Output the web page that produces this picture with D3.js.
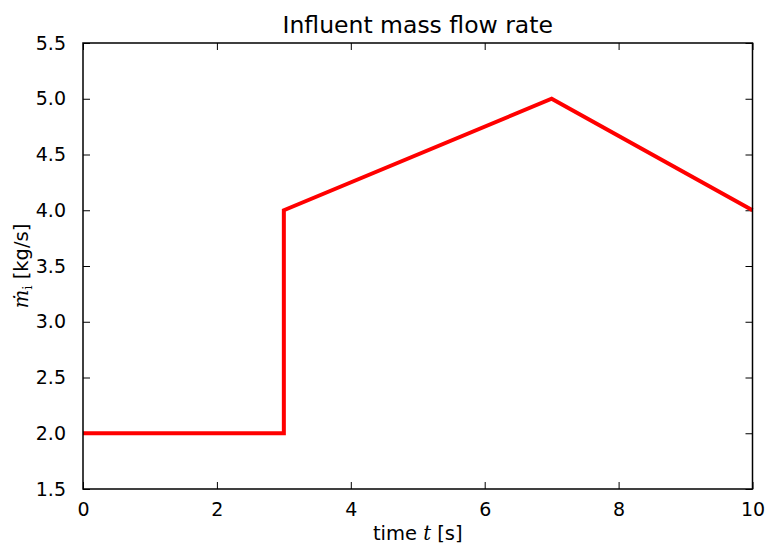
<!DOCTYPE html>
<html>
<head>
<meta charset="utf-8">
<script src="https://d3js.org/d3.v7.min.js"></script>
<style>
  body { margin: 0; background: #fff; }
  text { font-family: "DejaVu Sans", sans-serif; }
</style>
</head>
<body>
<div id="chart"></div>
<script>
// data
var times = [0, 3, 3, 7, 10];
var flows = [2.0, 2.0, 4.0, 5.0, 4.0];
var xTicks = [0, 2, 4, 6, 8, 10];
var yTicks = [1.5, 2.0, 2.5, 3.0, 3.5, 4.0, 4.5, 5.0, 5.5];

// setup
var width = 768, height = 548;
var margin = {left: 83, right: 15.5, top: 43, bottom: 59};
var w = width - margin.left - margin.right,
    h = height - margin.top - margin.bottom;

var svg = d3.select("#chart").append("svg")
    .attr("width", width)
    .attr("height", height);

var g = svg.append("g")
    .attr("transform", "translate(" + margin.left + "," + margin.top + ")");

var x = d3.scaleLinear().domain([0, 10]).range([0, w]);
var y = d3.scaleLinear().domain([1.5, 5.5]).range([h, 0]);

var tickLen = 7;

// axes, ticks point inwards (matplotlib classic)
function styleAxis(sel) {
    sel.select(".domain").remove();
    sel.selectAll(".tick line").attr("stroke", "#000").attr("stroke-width", 1);
    sel.selectAll(".tick text").attr("font-size", "19px").attr("fill", "#000")
        .attr("font-family", "DejaVu Sans");
}

g.append("g")
    .attr("transform", "translate(0," + h + ")")
    .call(d3.axisBottom(x).tickValues(xTicks).tickSizeInner(-tickLen).tickSizeOuter(0)
        .tickPadding(tickLen + 7).tickFormat(d3.format("d")))
    .call(styleAxis);

g.append("g")
    .call(d3.axisTop(x).tickValues(xTicks).tickSizeInner(-tickLen).tickSizeOuter(0).tickFormat(""))
    .call(styleAxis);

g.append("g")
    .call(d3.axisLeft(y).tickValues(yTicks).tickSizeInner(-tickLen).tickSizeOuter(0)
        .tickPadding(tickLen + 10).tickFormat(d3.format(".1f")))
    .call(styleAxis);

g.append("g")
    .attr("transform", "translate(" + w + ",0)")
    .call(d3.axisRight(y).tickValues(yTicks).tickSizeInner(-tickLen).tickSizeOuter(0).tickFormat(""))
    .call(styleAxis);

// line
var line = d3.line()
    .x(function (d, i) { return x(times[i]); })
    .y(function (d) { return y(d); });

g.append("path")
    .datum(flows)
    .attr("d", line)
    .attr("fill", "none")
    .attr("stroke", "#ff0000")
    .attr("stroke-width", 4)
    .attr("stroke-linejoin", "miter");

// frame
g.append("rect")
    .attr("width", w)
    .attr("height", h)
    .attr("fill", "none")
    .attr("stroke", "#000")
    .attr("stroke-width", 1.5);

// title
svg.append("text")
    .attr("x", margin.left + w / 2)
    .attr("y", 33)
    .attr("text-anchor", "middle")
    .attr("font-size", "23.5px")
    .text("Influent mass flow rate");

// x label
var xl = svg.append("text")
    .attr("x", margin.left + w / 2)
    .attr("y", 540)
    .attr("text-anchor", "middle")
    .attr("font-size", "19.5px");
xl.append("tspan").text("time ");
xl.append("tspan").attr("font-family", "DejaVu Serif").attr("font-style", "italic").text("t");
xl.append("tspan").text(" [s]");

// y label
var yl = svg.append("text")
    .attr("transform", "translate(28," + (margin.top + h / 2) + ") rotate(-90)")
    .attr("text-anchor", "middle")
    .attr("font-size", "19.5px");
yl.append("tspan").attr("font-family", "DejaVu Serif").attr("font-style", "italic").text("\u1E41");
yl.append("tspan").attr("font-family", "DejaVu Serif").attr("font-size", "13.5px").attr("dy", 4).text("i");
yl.append("tspan").attr("dy", -4).text(" [kg/s]");
</script>
</body>
</html>
